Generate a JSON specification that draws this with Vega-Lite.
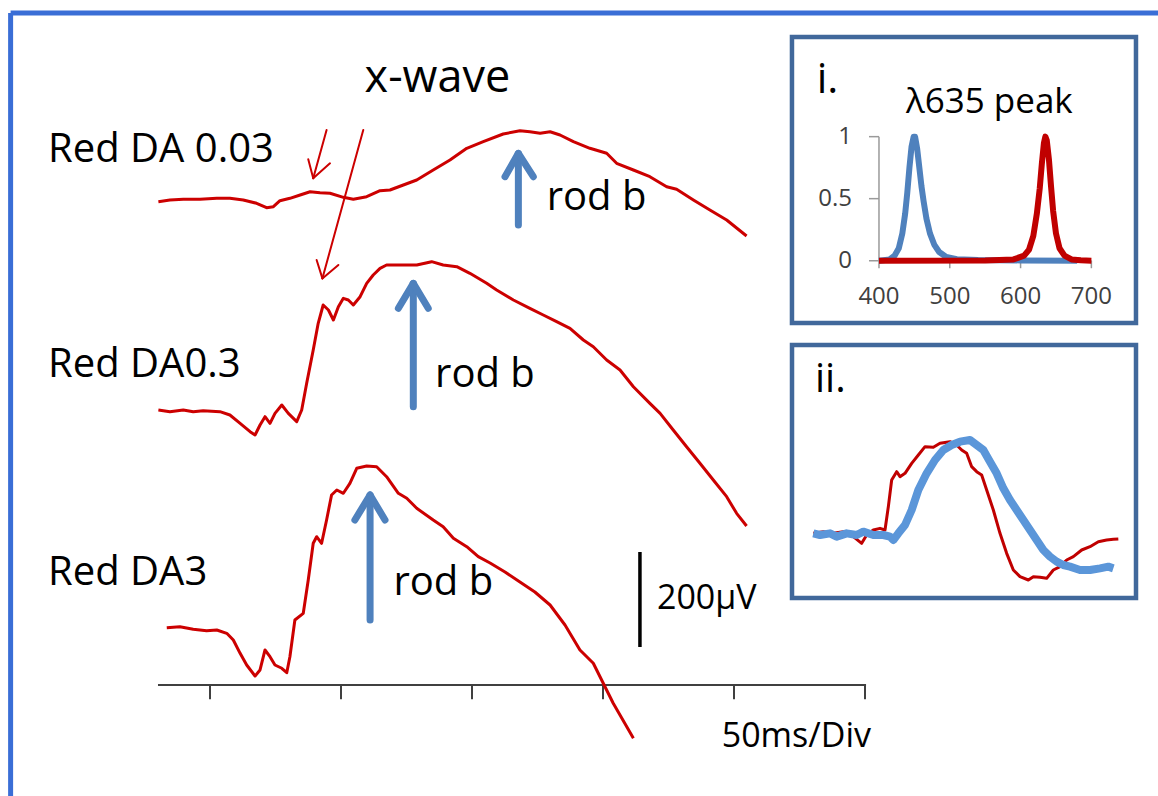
{
  "$schema": "https://vega.github.io/schema/vega-lite/v6.json",
  "width": 1158,
  "height": 796,
  "padding": 0,
  "autosize": {"type": "none"},
  "background": "white",
  "config": {"view": {"stroke": null}, "axis": {"disable": true}, "text": {"font": "Open Sans"}},
  "datasets": {
    "traces": [
      {"trace": "Red DA 0.03", "ms": -19.7, "uV": 1017.5},
      {"trace": "Red DA 0.03", "ms": -15.3, "uV": 1021.1},
      {"trace": "Red DA 0.03", "ms": -10.2, "uV": 1022.5},
      {"trace": "Red DA 0.03", "ms": -3.8, "uV": 1022.5},
      {"trace": "Red DA 0.03", "ms": 2.6, "uV": 1024.6},
      {"trace": "Red DA 0.03", "ms": 7.6, "uV": 1024.6},
      {"trace": "Red DA 0.03", "ms": 12.7, "uV": 1021.1},
      {"trace": "Red DA 0.03", "ms": 17.8, "uV": 1014.1},
      {"trace": "Red DA 0.03", "ms": 21.6, "uV": 1004.8},
      {"trace": "Red DA 0.03", "ms": 24.2, "uV": 1007.0},
      {"trace": "Red DA 0.03", "ms": 26.7, "uV": 1019.6},
      {"trace": "Red DA 0.03", "ms": 30.5, "uV": 1024.6},
      {"trace": "Red DA 0.03", "ms": 34.4, "uV": 1031.6},
      {"trace": "Red DA 0.03", "ms": 38.2, "uV": 1038.5},
      {"trace": "Red DA 0.03", "ms": 42.0, "uV": 1036.4},
      {"trace": "Red DA 0.03", "ms": 45.8, "uV": 1035.2},
      {"trace": "Red DA 0.03", "ms": 50.9, "uV": 1026.7},
      {"trace": "Red DA 0.03", "ms": 54.7, "uV": 1022.5},
      {"trace": "Red DA 0.03", "ms": 59.8, "uV": 1028.0},
      {"trace": "Red DA 0.03", "ms": 64.9, "uV": 1040.6},
      {"trace": "Red DA 0.03", "ms": 68.7, "uV": 1042.1},
      {"trace": "Red DA 0.03", "ms": 73.8, "uV": 1052.6},
      {"trace": "Red DA 0.03", "ms": 78.9, "uV": 1063.2},
      {"trace": "Red DA 0.03", "ms": 85.2, "uV": 1084.2},
      {"trace": "Red DA 0.03", "ms": 91.6, "uV": 1105.3},
      {"trace": "Red DA 0.03", "ms": 98.0, "uV": 1129.9},
      {"trace": "Red DA 0.03", "ms": 104.3, "uV": 1143.8},
      {"trace": "Red DA 0.03", "ms": 111.9, "uV": 1160.0},
      {"trace": "Red DA 0.03", "ms": 118.3, "uV": 1166.9},
      {"trace": "Red DA 0.03", "ms": 122.1, "uV": 1164.8},
      {"trace": "Red DA 0.03", "ms": 126.0, "uV": 1161.5},
      {"trace": "Red DA 0.03", "ms": 129.8, "uV": 1164.8},
      {"trace": "Red DA 0.03", "ms": 133.6, "uV": 1157.9},
      {"trace": "Red DA 0.03", "ms": 138.7, "uV": 1143.8},
      {"trace": "Red DA 0.03", "ms": 145.0, "uV": 1129.9},
      {"trace": "Red DA 0.03", "ms": 151.4, "uV": 1119.4},
      {"trace": "Red DA 0.03", "ms": 155.2, "uV": 1098.3},
      {"trace": "Red DA 0.03", "ms": 161.6, "uV": 1084.2},
      {"trace": "Red DA 0.03", "ms": 167.9, "uV": 1070.1},
      {"trace": "Red DA 0.03", "ms": 174.3, "uV": 1049.0},
      {"trace": "Red DA 0.03", "ms": 178.1, "uV": 1043.6},
      {"trace": "Red DA 0.03", "ms": 184.5, "uV": 1021.1},
      {"trace": "Red DA 0.03", "ms": 190.8, "uV": 1000.0},
      {"trace": "Red DA 0.03", "ms": 197.2, "uV": 978.9},
      {"trace": "Red DA 0.03", "ms": 204.8, "uV": 945.3},
      {"trace": "Red DA0.3", "ms": -19.7, "uV": 578.9},
      {"trace": "Red DA0.3", "ms": -15.3, "uV": 575.4},
      {"trace": "Red DA0.3", "ms": -10.2, "uV": 578.9},
      {"trace": "Red DA0.3", "ms": -6.4, "uV": 575.4},
      {"trace": "Red DA0.3", "ms": -2.6, "uV": 577.5},
      {"trace": "Red DA0.3", "ms": 3.8, "uV": 575.4},
      {"trace": "Red DA0.3", "ms": 7.6, "uV": 568.4},
      {"trace": "Red DA0.3", "ms": 11.5, "uV": 550.9},
      {"trace": "Red DA0.3", "ms": 15.3, "uV": 533.3},
      {"trace": "Red DA0.3", "ms": 17.2, "uV": 526.3},
      {"trace": "Red DA0.3", "ms": 19.1, "uV": 547.4},
      {"trace": "Red DA0.3", "ms": 21.0, "uV": 564.9},
      {"trace": "Red DA0.3", "ms": 22.9, "uV": 550.9},
      {"trace": "Red DA0.3", "ms": 24.8, "uV": 571.9},
      {"trace": "Red DA0.3", "ms": 27.4, "uV": 589.5},
      {"trace": "Red DA0.3", "ms": 29.9, "uV": 571.9},
      {"trace": "Red DA0.3", "ms": 33.1, "uV": 554.4},
      {"trace": "Red DA0.3", "ms": 35.0, "uV": 578.9},
      {"trace": "Red DA0.3", "ms": 36.9, "uV": 635.1},
      {"trace": "Red DA0.3", "ms": 39.4, "uV": 705.3},
      {"trace": "Red DA0.3", "ms": 41.3, "uV": 761.4},
      {"trace": "Red DA0.3", "ms": 43.2, "uV": 800.0},
      {"trace": "Red DA0.3", "ms": 45.2, "uV": 789.5},
      {"trace": "Red DA0.3", "ms": 47.1, "uV": 768.4},
      {"trace": "Red DA0.3", "ms": 49.0, "uV": 796.5},
      {"trace": "Red DA0.3", "ms": 50.9, "uV": 814.0},
      {"trace": "Red DA0.3", "ms": 52.8, "uV": 810.5},
      {"trace": "Red DA0.3", "ms": 54.7, "uV": 800.0},
      {"trace": "Red DA0.3", "ms": 57.3, "uV": 817.5},
      {"trace": "Red DA0.3", "ms": 59.8, "uV": 845.6},
      {"trace": "Red DA0.3", "ms": 62.3, "uV": 863.2},
      {"trace": "Red DA0.3", "ms": 64.9, "uV": 877.2},
      {"trace": "Red DA0.3", "ms": 67.4, "uV": 884.2},
      {"trace": "Red DA0.3", "ms": 72.5, "uV": 884.2},
      {"trace": "Red DA0.3", "ms": 78.9, "uV": 884.2},
      {"trace": "Red DA0.3", "ms": 84.6, "uV": 891.2},
      {"trace": "Red DA0.3", "ms": 89.0, "uV": 884.2},
      {"trace": "Red DA0.3", "ms": 94.2, "uV": 880.7},
      {"trace": "Red DA0.3", "ms": 99.2, "uV": 866.7},
      {"trace": "Red DA0.3", "ms": 105.6, "uV": 845.6},
      {"trace": "Red DA0.3", "ms": 109.4, "uV": 831.6},
      {"trace": "Red DA0.3", "ms": 115.8, "uV": 810.5},
      {"trace": "Red DA0.3", "ms": 122.1, "uV": 793.0},
      {"trace": "Red DA0.3", "ms": 127.2, "uV": 778.9},
      {"trace": "Red DA0.3", "ms": 132.3, "uV": 764.9},
      {"trace": "Red DA0.3", "ms": 137.4, "uV": 750.9},
      {"trace": "Red DA0.3", "ms": 142.5, "uV": 726.3},
      {"trace": "Red DA0.3", "ms": 146.3, "uV": 712.2},
      {"trace": "Red DA0.3", "ms": 151.4, "uV": 684.2},
      {"trace": "Red DA0.3", "ms": 156.5, "uV": 663.2},
      {"trace": "Red DA0.3", "ms": 161.6, "uV": 628.0},
      {"trace": "Red DA0.3", "ms": 167.9, "uV": 593.0},
      {"trace": "Red DA0.3", "ms": 171.8, "uV": 571.9},
      {"trace": "Red DA0.3", "ms": 176.8, "uV": 536.8},
      {"trace": "Red DA0.3", "ms": 181.9, "uV": 501.7},
      {"trace": "Red DA0.3", "ms": 187.0, "uV": 466.7},
      {"trace": "Red DA0.3", "ms": 192.1, "uV": 431.6},
      {"trace": "Red DA0.3", "ms": 197.2, "uV": 396.5},
      {"trace": "Red DA0.3", "ms": 201.0, "uV": 361.4},
      {"trace": "Red DA0.3", "ms": 204.8, "uV": 334.7},
      {"trace": "Red DA3", "ms": -16.5, "uV": 120.6},
      {"trace": "Red DA3", "ms": -11.5, "uV": 122.7},
      {"trace": "Red DA3", "ms": -6.4, "uV": 117.3},
      {"trace": "Red DA3", "ms": -1.3, "uV": 114.3},
      {"trace": "Red DA3", "ms": 2.6, "uV": 115.8},
      {"trace": "Red DA3", "ms": 6.4, "uV": 108.8},
      {"trace": "Red DA3", "ms": 8.9, "uV": 94.7},
      {"trace": "Red DA3", "ms": 11.5, "uV": 66.7},
      {"trace": "Red DA3", "ms": 14.0, "uV": 42.1},
      {"trace": "Red DA3", "ms": 17.2, "uV": 18.9},
      {"trace": "Red DA3", "ms": 19.1, "uV": 31.6},
      {"trace": "Red DA3", "ms": 21.0, "uV": 73.7},
      {"trace": "Red DA3", "ms": 22.9, "uV": 59.6},
      {"trace": "Red DA3", "ms": 24.8, "uV": 42.1},
      {"trace": "Red DA3", "ms": 27.4, "uV": 35.2},
      {"trace": "Red DA3", "ms": 29.3, "uV": 25.9},
      {"trace": "Red DA3", "ms": 30.5, "uV": 59.6},
      {"trace": "Red DA3", "ms": 32.4, "uV": 136.8},
      {"trace": "Red DA3", "ms": 35.6, "uV": 150.9},
      {"trace": "Red DA3", "ms": 37.5, "uV": 221.1},
      {"trace": "Red DA3", "ms": 39.4, "uV": 298.3},
      {"trace": "Red DA3", "ms": 40.7, "uV": 312.2},
      {"trace": "Red DA3", "ms": 42.6, "uV": 298.3},
      {"trace": "Red DA3", "ms": 44.5, "uV": 347.4},
      {"trace": "Red DA3", "ms": 46.4, "uV": 400.0},
      {"trace": "Red DA3", "ms": 48.4, "uV": 410.5},
      {"trace": "Red DA3", "ms": 50.9, "uV": 403.6},
      {"trace": "Red DA3", "ms": 53.4, "uV": 424.6},
      {"trace": "Red DA3", "ms": 56.0, "uV": 456.2},
      {"trace": "Red DA3", "ms": 59.8, "uV": 461.1},
      {"trace": "Red DA3", "ms": 63.6, "uV": 459.6},
      {"trace": "Red DA3", "ms": 67.4, "uV": 438.5},
      {"trace": "Red DA3", "ms": 71.9, "uV": 403.6},
      {"trace": "Red DA3", "ms": 75.1, "uV": 393.1},
      {"trace": "Red DA3", "ms": 78.9, "uV": 372.0},
      {"trace": "Red DA3", "ms": 85.2, "uV": 347.4},
      {"trace": "Red DA3", "ms": 89.0, "uV": 333.3},
      {"trace": "Red DA3", "ms": 92.9, "uV": 308.8},
      {"trace": "Red DA3", "ms": 98.0, "uV": 291.2},
      {"trace": "Red DA3", "ms": 102.4, "uV": 270.1},
      {"trace": "Red DA3", "ms": 106.9, "uV": 256.8},
      {"trace": "Red DA3", "ms": 112.6, "uV": 237.9},
      {"trace": "Red DA3", "ms": 118.3, "uV": 216.8},
      {"trace": "Red DA3", "ms": 124.0, "uV": 195.8},
      {"trace": "Red DA3", "ms": 129.8, "uV": 168.4},
      {"trace": "Red DA3", "ms": 135.5, "uV": 126.3},
      {"trace": "Red DA3", "ms": 141.2, "uV": 73.7},
      {"trace": "Red DA3", "ms": 146.3, "uV": 45.7},
      {"trace": "Red DA3", "ms": 150.1, "uV": 3.6},
      {"trace": "Red DA3", "ms": 153.9, "uV": -38.5},
      {"trace": "Red DA3", "ms": 161.6, "uV": -112.2}
    ],
    "spectra": [
      {"led": "blue", "nm": 400, "rel": 0},
      {"led": "blue", "nm": 415, "rel": 0.01},
      {"led": "blue", "nm": 422, "rel": 0.04},
      {"led": "blue", "nm": 428, "rel": 0.1},
      {"led": "blue", "nm": 433, "rel": 0.22},
      {"led": "blue", "nm": 437, "rel": 0.38},
      {"led": "blue", "nm": 440, "rel": 0.55},
      {"led": "blue", "nm": 443, "rel": 0.75},
      {"led": "blue", "nm": 446, "rel": 0.92},
      {"led": "blue", "nm": 449, "rel": 1.0},
      {"led": "blue", "nm": 451, "rel": 1.0},
      {"led": "blue", "nm": 454, "rel": 0.9},
      {"led": "blue", "nm": 457, "rel": 0.75},
      {"led": "blue", "nm": 460, "rel": 0.6},
      {"led": "blue", "nm": 463, "rel": 0.48},
      {"led": "blue", "nm": 467, "rel": 0.34},
      {"led": "blue", "nm": 472, "rel": 0.22},
      {"led": "blue", "nm": 478, "rel": 0.13},
      {"led": "blue", "nm": 485, "rel": 0.07},
      {"led": "blue", "nm": 495, "rel": 0.03},
      {"led": "blue", "nm": 510, "rel": 0.012},
      {"led": "blue", "nm": 540, "rel": 0.005},
      {"led": "blue", "nm": 600, "rel": 0.002},
      {"led": "blue", "nm": 680, "rel": 0},
      {"led": "red", "nm": 400, "rel": 0},
      {"led": "red", "nm": 550, "rel": 0.002},
      {"led": "red", "nm": 590, "rel": 0.01},
      {"led": "red", "nm": 605, "rel": 0.04},
      {"led": "red", "nm": 612, "rel": 0.09},
      {"led": "red", "nm": 618, "rel": 0.2},
      {"led": "red", "nm": 623, "rel": 0.38},
      {"led": "red", "nm": 627, "rel": 0.58},
      {"led": "red", "nm": 630, "rel": 0.78},
      {"led": "red", "nm": 633, "rel": 0.95},
      {"led": "red", "nm": 635, "rel": 1.0},
      {"led": "red", "nm": 637, "rel": 0.97},
      {"led": "red", "nm": 640, "rel": 0.82},
      {"led": "red", "nm": 643, "rel": 0.6},
      {"led": "red", "nm": 646, "rel": 0.4},
      {"led": "red", "nm": 650, "rel": 0.22},
      {"led": "red", "nm": 655, "rel": 0.1},
      {"led": "red", "nm": 662, "rel": 0.04},
      {"led": "red", "nm": 672, "rel": 0.01},
      {"led": "red", "nm": 685, "rel": 0.003},
      {"led": "red", "nm": 700, "rel": 0}
    ],
    "compare": [
      {"led": "red", "t": 10, "amp": 0}, {"led": "red", "t": 13, "amp": 0.05}, {"led": "red", "t": 16, "amp": 0},
      {"led": "red", "t": 19, "amp": 0.05}, {"led": "red", "t": 22, "amp": -0.1}, {"led": "red", "t": 24.5, "amp": -0.3},
      {"led": "red", "t": 26, "amp": -0.05}, {"led": "red", "t": 28, "amp": 0.1}, {"led": "red", "t": 30, "amp": 0.15},
      {"led": "red", "t": 31.5, "amp": 0.1}, {"led": "red", "t": 32.5, "amp": 0.8}, {"led": "red", "t": 33.5, "amp": 1.6},
      {"led": "red", "t": 35, "amp": 1.85}, {"led": "red", "t": 36, "amp": 1.7}, {"led": "red", "t": 37.5, "amp": 1.8},
      {"led": "red", "t": 39.5, "amp": 2.1}, {"led": "red", "t": 41.5, "amp": 2.35}, {"led": "red", "t": 43.5, "amp": 2.6},
      {"led": "red", "t": 46, "amp": 2.58}, {"led": "red", "t": 48, "amp": 2.7}, {"led": "red", "t": 51, "amp": 2.75},
      {"led": "red", "t": 53, "amp": 2.65}, {"led": "red", "t": 54.5, "amp": 2.5}, {"led": "red", "t": 56, "amp": 2.4},
      {"led": "red", "t": 57.5, "amp": 2.0}, {"led": "red", "t": 59, "amp": 1.85}, {"led": "red", "t": 60.5, "amp": 1.75},
      {"led": "red", "t": 62, "amp": 1.3}, {"led": "red", "t": 64, "amp": 0.7}, {"led": "red", "t": 66, "amp": 0},
      {"led": "red", "t": 68, "amp": -0.6}, {"led": "red", "t": 70, "amp": -1.1}, {"led": "red", "t": 72, "amp": -1.3},
      {"led": "red", "t": 74.5, "amp": -1.4}, {"led": "red", "t": 76, "amp": -1.3}, {"led": "red", "t": 78, "amp": -1.32},
      {"led": "red", "t": 80, "amp": -1.35}, {"led": "red", "t": 82, "amp": -1.1}, {"led": "red", "t": 84, "amp": -1.0},
      {"led": "red", "t": 86, "amp": -0.8}, {"led": "red", "t": 88, "amp": -0.7}, {"led": "red", "t": 90.5, "amp": -0.5},
      {"led": "red", "t": 93, "amp": -0.4}, {"led": "red", "t": 95.5, "amp": -0.25}, {"led": "red", "t": 98, "amp": -0.2},
      {"led": "red", "t": 100, "amp": -0.18}, {"led": "red", "t": 101.5, "amp": -0.17},
      {"led": "blue", "t": 10, "amp": 0}, {"led": "blue", "t": 12, "amp": -0.05}, {"led": "blue", "t": 15, "amp": 0},
      {"led": "blue", "t": 17, "amp": -0.1}, {"led": "blue", "t": 20, "amp": 0}, {"led": "blue", "t": 23, "amp": -0.05},
      {"led": "blue", "t": 25, "amp": 0.05}, {"led": "blue", "t": 28, "amp": -0.05}, {"led": "blue", "t": 31, "amp": -0.05},
      {"led": "blue", "t": 33, "amp": -0.1}, {"led": "blue", "t": 34, "amp": -0.2}, {"led": "blue", "t": 35.5, "amp": 0},
      {"led": "blue", "t": 37.5, "amp": 0.25}, {"led": "blue", "t": 39.5, "amp": 0.7}, {"led": "blue", "t": 41.5, "amp": 1.3},
      {"led": "blue", "t": 44, "amp": 1.8}, {"led": "blue", "t": 46.5, "amp": 2.2}, {"led": "blue", "t": 49, "amp": 2.5},
      {"led": "blue", "t": 51.5, "amp": 2.65}, {"led": "blue", "t": 54, "amp": 2.75}, {"led": "blue", "t": 57, "amp": 2.8},
      {"led": "blue", "t": 59, "amp": 2.65}, {"led": "blue", "t": 61, "amp": 2.5}, {"led": "blue", "t": 63, "amp": 2.15},
      {"led": "blue", "t": 65, "amp": 1.8}, {"led": "blue", "t": 67, "amp": 1.35}, {"led": "blue", "t": 69, "amp": 1.0},
      {"led": "blue", "t": 71, "amp": 0.7}, {"led": "blue", "t": 73, "amp": 0.4}, {"led": "blue", "t": 75, "amp": 0.1},
      {"led": "blue", "t": 77, "amp": -0.2}, {"led": "blue", "t": 79, "amp": -0.5}, {"led": "blue", "t": 81, "amp": -0.7},
      {"led": "blue", "t": 83, "amp": -0.85}, {"led": "blue", "t": 85, "amp": -0.95}, {"led": "blue", "t": 87, "amp": -1.0},
      {"led": "blue", "t": 90, "amp": -1.1}, {"led": "blue", "t": 93, "amp": -1.1}, {"led": "blue", "t": 96, "amp": -1.05},
      {"led": "blue", "t": 98.5, "amp": -1.0}, {"led": "blue", "t": 100, "amp": -1.05}
    ]
  },
  "layer": [
    {
      "encoding": {
        "x": {"field": "ms", "type": "quantitative", "scale": {"domain": [-80.15, 361.83], "nice": false, "zero": false}, "axis": null},
        "y": {"field": "uV", "type": "quantitative", "scale": {"domain": [-233.7, 1442.1], "nice": false, "zero": false}, "axis": null}
      },
      "layer": [
        {
          "data": {"values": [
            {"ms": -76.1, "uV": 1414.7, "ms2": -76.1, "uV2": -233.7},
            {"ms": -76.1, "uV": 1414.7, "ms2": 361.83, "uV2": 1414.7}
          ]},
          "mark": {"type": "rule", "color": "#3A6ED6", "strokeWidth": 5},
          "encoding": {"x2": {"field": "ms2"}, "y2": {"field": "uV2"}}
        },
        {
          "data": {"values": [
            {"ms": -19.85, "uV": 0, "ms2": 250.4, "uV2": 0},
            {"ms": 0, "uV": 0, "ms2": 0, "uV2": -30},
            {"ms": 50, "uV": 0, "ms2": 50, "uV2": -30},
            {"ms": 100, "uV": 0, "ms2": 100, "uV2": -30},
            {"ms": 150, "uV": 0, "ms2": 150, "uV2": -30},
            {"ms": 200, "uV": 0, "ms2": 200, "uV2": -30},
            {"ms": 250, "uV": 0, "ms2": 250, "uV2": -30}
          ]},
          "mark": {"type": "rule", "color": "#404040", "strokeWidth": 2},
          "encoding": {"x2": {"field": "ms2"}, "y2": {"field": "uV2"}}
        },
        {
          "data": {"values": [{"ms": 164.1, "uV": 80, "ms2": 164.1, "uV2": 280}]},
          "mark": {"type": "rule", "color": "black", "strokeWidth": 3.5},
          "encoding": {"x2": {"field": "ms2"}, "y2": {"field": "uV2"}}
        },
        {
          "data": {"name": "traces"},
          "mark": {"type": "line", "color": "#CC0000", "strokeWidth": 3, "strokeJoin": "round"},
          "encoding": {"detail": {"field": "trace"}}
        },
        {
          "data": {"values": [
            {"ms": 44.5, "uV": 1168.4, "ms2": 39.4, "uV2": 1066.7},
            {"ms": 37.5, "uV": 1106.7, "ms2": 39.4, "uV2": 1066.7},
            {"ms": 45.8, "uV": 1098.3, "ms2": 39.4, "uV2": 1066.7},
            {"ms": 58.5, "uV": 1168.4, "ms2": 42.9, "uV2": 856.0},
            {"ms": 40.7, "uV": 894.7, "ms2": 42.9, "uV2": 856.0},
            {"ms": 49.0, "uV": 884.2, "ms2": 42.9, "uV2": 856.0}
          ]},
          "mark": {"type": "rule", "color": "#CC0000", "strokeWidth": 2, "strokeCap": "round"},
          "encoding": {"x2": {"field": "ms2"}, "y2": {"field": "uV2"}}
        },
        {
          "data": {"values": [
            {"ms": 117.7, "uV": 968.4, "ms2": 117.7, "uV2": 1115},
            {"ms": 112.6, "uV": 1070.1, "ms2": 117.7, "uV2": 1119.3},
            {"ms": 123.4, "uV": 1070.1, "ms2": 117.7, "uV2": 1119.3},
            {"ms": 77.6, "uV": 585.9, "ms2": 77.6, "uV2": 841},
            {"ms": 71.9, "uV": 793.0, "ms2": 77.6, "uV2": 845.6},
            {"ms": 83.3, "uV": 793.0, "ms2": 77.6, "uV2": 845.6},
            {"ms": 61.1, "uV": 136.8, "ms2": 61.1, "uV2": 396},
            {"ms": 55.3, "uV": 347.4, "ms2": 61.1, "uV2": 400.0},
            {"ms": 66.8, "uV": 347.4, "ms2": 61.1, "uV2": 400.0}
          ]},
          "mark": {"type": "rule", "color": "#4F81BD", "strokeWidth": 7, "strokeCap": "round"},
          "encoding": {"x2": {"field": "ms2"}, "y2": {"field": "uV2"}}
        },
        {
          "data": {"values": [
            {"ms": -61.8, "uV": 1101.6, "label": "Red DA 0.03"},
            {"ms": -61.8, "uV": 649.0, "label": "Red DA0.3"},
            {"ms": -61.8, "uV": 210.5, "label": "Red DA3"},
            {"ms": 128.5, "uV": 1000.0, "label": "rod b"},
            {"ms": 85.9, "uV": 628.0, "label": "rod b"},
            {"ms": 70.0, "uV": 189.5, "label": "rod b"}
          ]},
          "mark": {"type": "text", "align": "left", "baseline": "alphabetic", "fontSize": 40, "color": "black"},
          "encoding": {"text": {"field": "label"}}
        },
        {
          "data": {"values": [{"ms": 86.8, "uV": 1248.4, "label": "x-wave"}]},
          "mark": {"type": "text", "align": "center", "baseline": "alphabetic", "fontSize": 45, "color": "black"},
          "encoding": {"text": {"field": "label"}}
        },
        {
          "data": {"values": [
            {"ms": 170.6, "uV": 160.0, "label": "200µV"},
            {"ms": 195.3, "uV": -129.9, "label": "50ms/Div"}
          ]},
          "mark": {"type": "text", "align": "left", "baseline": "alphabetic", "fontSize": 34, "color": "black"},
          "encoding": {"text": {"field": "label"}}
        }
      ]
    },
    {
      "encoding": {
        "x": {"field": "nm", "type": "quantitative", "scale": {"domain": [-841.5, 794.1], "nice": false, "zero": false}, "axis": null},
        "y": {"field": "rel", "type": "quantitative", "scale": {"domain": [-4.317, 2.102], "nice": false, "zero": false}, "axis": null}
      },
      "layer": [
        {
          "data": {"values": [{"nm": 277.1, "rel": 1.804, "nm2": 763.0, "rel2": -0.502}]},
          "mark": {"type": "rect", "fill": "white", "stroke": "#41689B", "strokeWidth": 4.5},
          "encoding": {"x2": {"field": "nm2"}, "y2": {"field": "rel2"}}
        },
        {
          "data": {"values": [
            {"nm": 400, "rel": 0, "nm2": 400, "rel2": 1},
            {"nm": 385.9, "rel": 0, "nm2": 700, "rel2": 0},
            {"nm": 385.9, "rel": 0.5, "nm2": 400, "rel2": 0.5},
            {"nm": 385.9, "rel": 1, "nm2": 400, "rel2": 1},
            {"nm": 400, "rel": 0, "nm2": 400, "rel2": -0.061},
            {"nm": 500, "rel": 0, "nm2": 500, "rel2": -0.061},
            {"nm": 600, "rel": 0, "nm2": 600, "rel2": -0.061},
            {"nm": 700, "rel": 0, "nm2": 700, "rel2": -0.061}
          ]},
          "mark": {"type": "rule", "color": "#9A9A9A", "strokeWidth": 1.5},
          "encoding": {"x2": {"field": "nm2"}, "y2": {"field": "rel2"}}
        },
        {
          "data": {"name": "spectra"},
          "transform": [{"filter": "datum.led === 'blue'"}],
          "mark": {"type": "line", "color": "#4F81BD", "strokeWidth": 6, "strokeJoin": "round"}
        },
        {
          "data": {"name": "spectra"},
          "transform": [{"filter": "datum.led === 'red'"}],
          "mark": {"type": "line", "color": "#C00000", "strokeWidth": 6, "strokeJoin": "round"}
        },
        {
          "data": {"values": [
            {"nm": 362, "rel": 1, "label": "1"},
            {"nm": 362, "rel": 0.5, "label": "0.5"},
            {"nm": 362, "rel": 0, "label": "0"}
          ]},
          "mark": {"type": "text", "align": "right", "baseline": "middle", "fontSize": 24, "color": "#404040"},
          "encoding": {"text": {"field": "label"}}
        },
        {
          "data": {"values": [
            {"nm": 400, "rel": -0.349, "label": "400"},
            {"nm": 500, "rel": -0.349, "label": "500"},
            {"nm": 600, "rel": -0.349, "label": "600"},
            {"nm": 700, "rel": -0.349, "label": "700"}
          ]},
          "mark": {"type": "text", "align": "center", "baseline": "alphabetic", "fontSize": 24, "color": "#404040"},
          "encoding": {"text": {"field": "label"}}
        },
        {
          "data": {"values": [{"nm": 312.1, "rel": 1.352, "label": "i."}]},
          "mark": {"type": "text", "align": "left", "baseline": "alphabetic", "fontSize": 42, "color": "black"},
          "encoding": {"text": {"field": "label"}}
        },
        {
          "data": {"values": [{"nm": 438.1, "rel": 1.194, "label": "λ635 peak"}]},
          "mark": {"type": "text", "align": "left", "baseline": "alphabetic", "fontSize": 35, "color": "black"},
          "encoding": {"text": {"field": "label"}}
        }
      ]
    },
    {
      "encoding": {
        "x": {"field": "t", "type": "quantitative", "scale": {"domain": [-234, 113.4], "nice": false, "zero": false}, "axis": null},
        "y": {"field": "amp", "type": "quantitative", "scale": {"domain": [-7.88, 16], "nice": false, "zero": false}, "axis": null}
      },
      "layer": [
        {
          "data": {"values": [{"t": 3.6, "amp": 5.65, "t2": 106.8, "amp2": -1.94}]},
          "mark": {"type": "rect", "fill": "white", "stroke": "#41689B", "strokeWidth": 4.5},
          "encoding": {"x2": {"field": "t2"}, "y2": {"field": "amp2"}}
        },
        {
          "data": {"name": "compare"},
          "transform": [{"filter": "datum.led === 'red'"}],
          "mark": {"type": "line", "color": "#C00000", "strokeWidth": 3, "strokeJoin": "round"}
        },
        {
          "data": {"name": "compare"},
          "transform": [{"filter": "datum.led === 'blue'"}],
          "mark": {"type": "line", "color": "#5B96D9", "strokeWidth": 8, "strokeJoin": "round"}
        },
        {
          "data": {"values": [{"t": 10.5, "amp": 4.25, "label": "ii."}]},
          "mark": {"type": "text", "align": "left", "baseline": "alphabetic", "fontSize": 40, "color": "black"},
          "encoding": {"text": {"field": "label"}}
        }
      ]
    }
  ],
  "resolve": {"scale": {"x": "independent", "y": "independent"}}
}
